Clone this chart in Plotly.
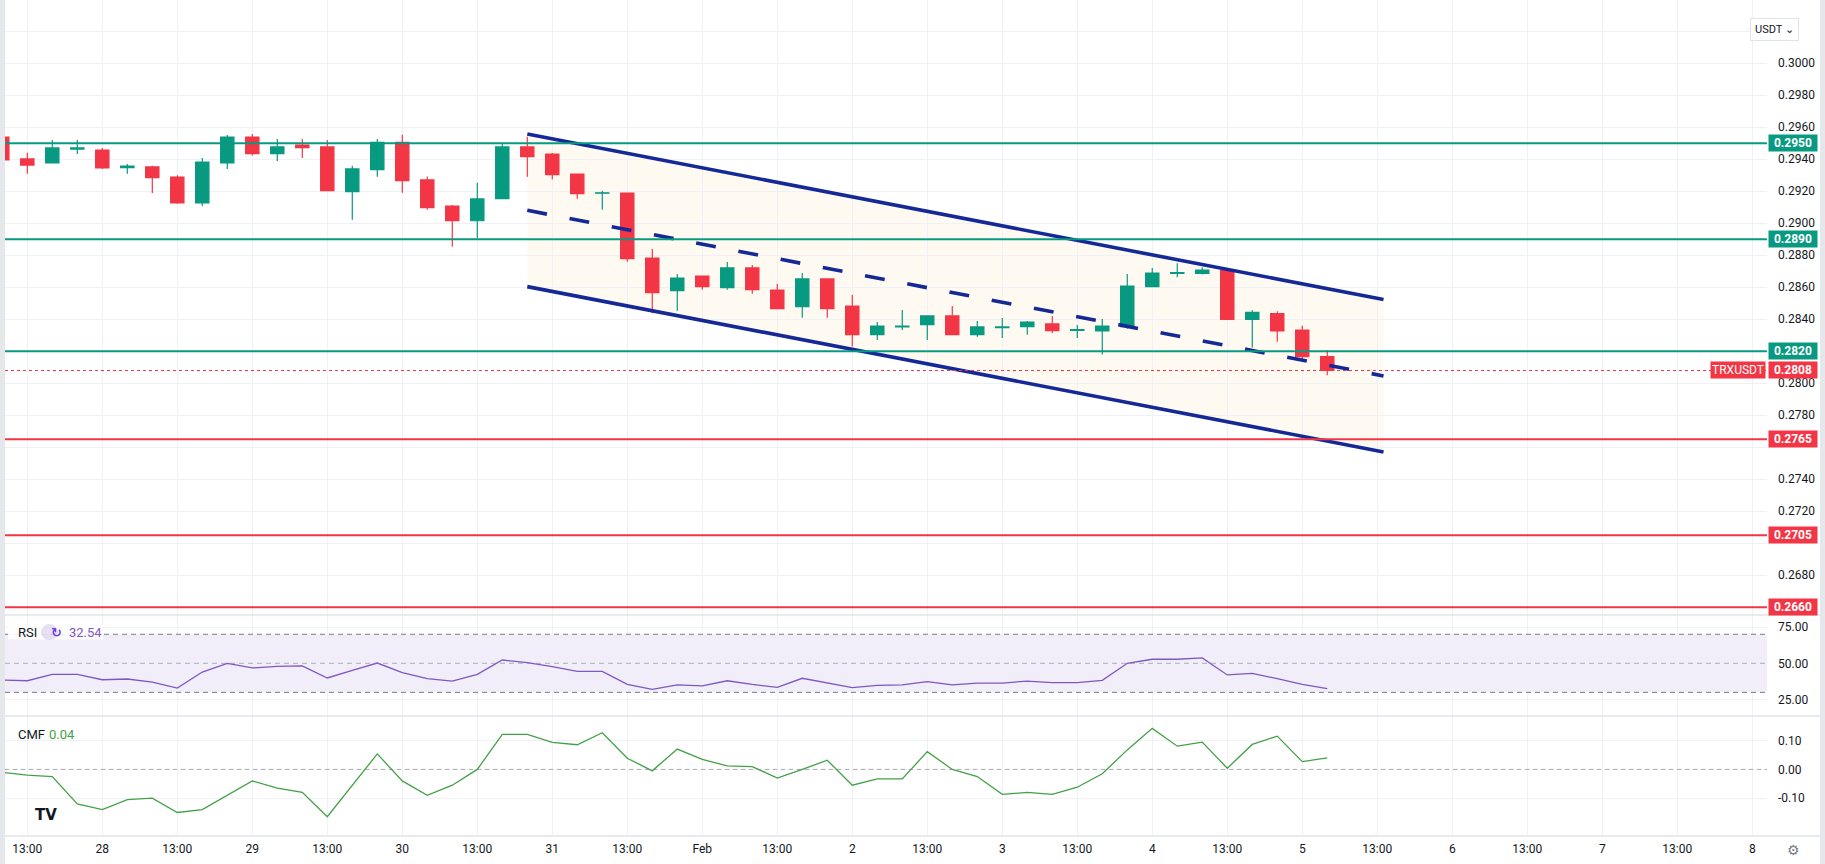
import plotly.graph_objects as go
from plotly.subplots import make_subplots

# 4h bars, bar 0 = 27 Jan 13:00
bars = list(range(-1, 53))

opens = [0.29539, 0.29402, 0.29377, 0.29464, 0.29458, 0.29348, 0.29352, 0.29289, 0.29127, 0.29377,
         0.29539, 0.29435, 0.29489, 0.29477, 0.29198, 0.29335, 0.29506, 0.29271, 0.29108, 0.29016,
         0.29154, 0.29477, 0.29433, 0.29308, 0.29188, 0.29189, 0.28783, 0.28579, 0.28670, 0.28598,
         0.28721, 0.28583, 0.28479, 0.28652, 0.28483, 0.28304, 0.28352, 0.28366, 0.28421, 0.28304,
         0.28348, 0.28354, 0.28371, 0.28331, 0.28327, 0.28354, 0.28604, 0.28687, 0.28687, 0.28706,
         0.28400, 0.28436, 0.28333, 0.28166]
highs = [0.29550, 0.29441, 0.29521, 0.29521, 0.29471, 0.29371, 0.29360, 0.29300, 0.29408, 0.29552,
         0.29558, 0.29527, 0.29527, 0.29521, 0.29360, 0.29527, 0.29554, 0.29292, 0.29115, 0.29254,
         0.29500, 0.29541, 0.29439, 0.29308, 0.29204, 0.29189, 0.28839, 0.28683, 0.28670, 0.28758,
         0.28740, 0.28621, 0.28689, 0.28652, 0.28552, 0.28383, 0.28458, 0.28421, 0.28483, 0.28390,
         0.28408, 0.28390, 0.28421, 0.28364, 0.28402, 0.28683, 0.28720, 0.28750, 0.28725, 0.28720,
         0.28456, 0.28450, 0.28360, 0.28208]
lows = [0.29380, 0.29310, 0.29373, 0.29433, 0.29340, 0.29310, 0.29189, 0.29122, 0.29108, 0.29340,
        0.29423, 0.29390, 0.29408, 0.29204, 0.29022, 0.29291, 0.29191, 0.29085, 0.28854, 0.28908,
        0.29154, 0.29291, 0.29273, 0.29154, 0.29085, 0.28760, 0.28438, 0.28454, 0.28585, 0.28585,
        0.28560, 0.28466, 0.28410, 0.28410, 0.28230, 0.28270, 0.28333, 0.28270, 0.28304, 0.28291,
        0.28283, 0.28304, 0.28313, 0.28283, 0.28180, 0.28341, 0.28604, 0.28663, 0.28680, 0.28400,
        0.28224, 0.28260, 0.28140, 0.28050]
closes = [0.29396, 0.29364, 0.29471, 0.29471, 0.29346, 0.29358, 0.29285, 0.29127, 0.29383, 0.29539,
          0.29435, 0.29477, 0.29473, 0.29204, 0.29340, 0.29506, 0.29266, 0.29098, 0.29016, 0.29152,
          0.29477, 0.29416, 0.29304, 0.29185, 0.29191, 0.28779, 0.28566, 0.28658, 0.28604, 0.28721,
          0.28585, 0.28466, 0.28652, 0.28466, 0.28304, 0.28358, 0.28358, 0.28421, 0.28304, 0.28352,
          0.28352, 0.28383, 0.28329, 0.28335, 0.28358, 0.28608, 0.28689, 0.28691, 0.28708, 0.28400,
          0.28443, 0.28327, 0.28166, 0.28080]

rsi = [38.5, 38.0, 42.4, 42.4, 38.7, 39.2, 37.1, 33.0, 44.0, 50.0,
       46.8, 47.9, 48.2, 39.9, 45.2, 50.2, 43.6, 39.4, 37.8, 42.4,
       52.3, 50.5, 47.7, 44.5, 44.5, 35.5, 32.1, 35.1, 34.4, 38.0,
       35.5, 33.4, 39.7, 36.2, 33.2, 34.8, 35.1, 37.4, 35.1, 36.4,
       36.4, 37.8, 36.7, 36.7, 38.3, 50.0, 52.8, 52.8, 53.7, 42.0,
       43.1, 39.4, 35.5, 32.54]
cmf = [-0.010, -0.020, -0.025, -0.120, -0.140, -0.105, -0.100, -0.150, -0.140, -0.090,
       -0.040, -0.065, -0.080, -0.165, -0.055, 0.054, -0.040, -0.090, -0.055, 0.000,
       0.122, 0.122, 0.094, 0.086, 0.128, 0.039, -0.005, 0.071, 0.035, 0.012,
       0.010, -0.030, 0.000, 0.032, -0.055, -0.033, -0.033, 0.062, 0.000, -0.025,
       -0.087, -0.080, -0.087, -0.062, -0.015, 0.068, 0.143, 0.081, 0.095, 0.004,
       0.087, 0.116, 0.027, 0.040]

tick_bars = list(range(0, 70, 3))
tick_text = ["13:00", "28", "13:00", "29", "13:00", "30", "13:00", "31", "13:00", "Feb",
             "13:00", "2", "13:00", "3", "13:00", "4", "13:00", "5", "13:00", "6",
             "13:00", "7", "13:00", "8"]
price_ticks = [round(0.266 + 0.002 * k, 3) for k in range(19)]
cmf_ticks = [-0.1, 0.0, 0.1]
cmf_tick_text = ["-0.10", "0.00", "0.10"]

green_levels = [0.2950, 0.2890, 0.2820]
red_levels = [0.2765, 0.2705, 0.2660]
last_price = 0.2808

# descending channel drawing (anchors in bars / price)
channel_x = [20, 54.25]
channel_top = [0.29558, 0.28523]
channel_mid = [0.29081, 0.28046]
channel_bot = [0.28604, 0.27571]

UP = "#089981"
DOWN = "#f23645"
NAVY = "#142896"
GRID = "#f0f1f4"
TEXT = "#131722"
PURPLE = "#7e57c2"
CMF_GREEN = "#43a047"
FONT = "Roboto"

# tick labels that sit under a level tag (or the currency button) are left blank
covered = green_levels + red_levels + [0.3020]
price_tick_text = ["" if any(abs(v - c) < 0.0007 for c in covered) else f"{v:.4f}" for v in price_ticks]

fig = make_subplots(rows=3, cols=1, shared_xaxes=True, vertical_spacing=0)

fig.add_trace(go.Candlestick(x=bars, open=opens, high=highs, low=lows, close=closes,
                             increasing=dict(line=dict(color=UP, width=1.2), fillcolor=UP),
                             decreasing=dict(line=dict(color=DOWN, width=1.2), fillcolor=DOWN),
                             whiskerwidth=0), row=1, col=1)

for ys, dash in ((channel_top, "solid"), (channel_mid, "20px,23px"), (channel_bot, "solid")):
    fig.add_trace(go.Scatter(x=channel_x, y=ys, mode="lines",
                             line=dict(color=NAVY, width=3.6, dash=dash)), row=1, col=1)

fig.add_trace(go.Scatter(x=bars, y=rsi, mode="lines", line=dict(color=PURPLE, width=1.3)), row=2, col=1)
fig.add_trace(go.Scatter(x=bars, y=cmf, mode="lines", line=dict(color=CMF_GREEN, width=1.3)), row=3, col=1)

# channel background, kept under the candles
path = (f"M {channel_x[0]},{channel_top[0]} L {channel_x[1]},{channel_top[1]} "
        f"L {channel_x[1]},{channel_bot[1]} L {channel_x[0]},{channel_bot[0]} Z")
fig.add_shape(type="path", path=path, xref="x", yref="y", fillcolor="#fffaf1",
              line=dict(width=0), layer="below")

# horizontal levels
for lvl in green_levels:
    fig.add_shape(type="line", xref="paper", x0=0, x1=1, yref="y", y0=lvl, y1=lvl,
                  line=dict(color=UP, width=2))
for lvl in red_levels:
    fig.add_shape(type="line", xref="paper", x0=0, x1=1, yref="y", y0=lvl, y1=lvl,
                  line=dict(color=DOWN, width=2))
fig.add_shape(type="line", xref="paper", x0=0, x1=1, yref="y", y0=last_price, y1=last_price,
              line=dict(color=DOWN, width=1, dash="dot"))

# RSI band + guides
fig.add_shape(type="rect", xref="paper", x0=0, x1=1, yref="y2", y0=30, y1=70,
              fillcolor="rgba(126,87,194,0.1)", line=dict(width=0), layer="below")
for lvl, col in ((70, "#787b86"), (50, "rgba(120,123,134,0.55)"), (30, "#787b86")):
    fig.add_shape(type="line", xref="paper", x0=0, x1=1, yref="y2", y0=lvl, y1=lvl,
                  line=dict(color=col, width=1, dash="5px,4px"))
fig.add_shape(type="line", xref="paper", x0=0, x1=1, yref="y3", y0=0, y1=0,
              line=dict(color="rgba(120,123,134,0.6)", width=1, dash="4px,4px"))

# pane separators and frame strips
for py in (0.2644, 0.1435, 0.0):
    fig.add_shape(type="line", xref="paper", x0=0, x1=1.0301, yref="paper", y0=py, y1=py,
                  line=dict(color="#e0e3eb", width=1.5))
fig.add_shape(type="rect", xref="paper", x0=-0.0029, x1=0, yref="paper", y0=-0.034, y1=1,
              fillcolor="#e6e7ea", line=dict(width=0))
fig.add_shape(type="rect", xref="paper", x0=1.0301, x1=1.033, yref="paper", y0=-0.034, y1=1,
              fillcolor="#e6e7ea", line=dict(width=0))

# price labels on the axis
for lvl, col in [(v, UP) for v in green_levels] + [(v, DOWN) for v in red_levels] + [(last_price, DOWN)]:
    fig.add_annotation(xref="paper", x=1, xanchor="left", xshift=1, yref="y", y=lvl,
                       text=f"<b>{lvl:.4f}</b>", showarrow=False, bgcolor=col,
                       font=dict(color="white", size=12, family=FONT),
                       width=46, height=14, borderpad=1)
fig.add_annotation(xref="paper", x=1, xanchor="right", xshift=-1, yref="y", y=last_price,
                   text="TRXUSDT", showarrow=False, bgcolor=DOWN,
                   font=dict(color="white", size=12, family=FONT), width=52, height=14, borderpad=1)

fig.add_annotation(xref="paper", x=1.0182, yref="paper", y=0.979, text="USDT ⌄", showarrow=False,
                   bgcolor="white", bordercolor="#e0e3eb", borderwidth=1, borderpad=4,
                   font=dict(color=TEXT, size=11, family=FONT))
fig.add_annotation(xref="paper", x=1.0199, yref="paper", y=-0.017, yanchor="middle", text="⚙",
                   showarrow=False, font=dict(color="#787b86", size=14))

# pane legends
fig.add_shape(type="rect", xref="paper", x0=0.0017, x1=0.0556, yref="paper", y0=0.235, y1=0.254,
              fillcolor="rgba(255,255,255,0.85)", line=dict(width=0))
fig.add_shape(type="circle", xref="paper", x0=0.0204, x1=0.0300, yref="paper", y0=0.2345, y1=0.2535,
              fillcolor="rgba(126,87,194,0.18)", line=dict(width=0))
fig.add_annotation(xref="paper", x=0.0062, xanchor="left", yref="paper", y=0.244, yanchor="middle",
                   text="RSI", showarrow=False, font=dict(color=TEXT, size=13, family=FONT))
fig.add_annotation(xref="paper", x=0.0252, yref="paper", y=0.244, yanchor="middle",
                   text="<b>↻</b>", showarrow=False, font=dict(color="#6a3df0", size=13, family="DejaVu Sans"))
fig.add_annotation(xref="paper", x=0.0352, xanchor="left", yref="paper", y=0.244, yanchor="middle",
                   text="32.54", showarrow=False, font=dict(color=PURPLE, size=13, family=FONT))
fig.add_annotation(xref="paper", x=0.0062, xanchor="left", yref="paper", y=0.122, yanchor="middle",
                   text="CMF", showarrow=False, font=dict(color=TEXT, size=13, family=FONT))
fig.add_annotation(xref="paper", x=0.0238, xanchor="left", yref="paper", y=0.122, yanchor="middle",
                   text="0.04", showarrow=False, font=dict(color=CMF_GREEN, size=13, family=FONT))
fig.add_annotation(xref="paper", x=0.016, yref="paper", y=0.025, yanchor="middle", text="<b>TV</b>",
                   showarrow=False, font=dict(color=TEXT, size=15, family="DejaVu Sans"))

fig.update_xaxes(range=[-0.892, 69.59], tickvals=tick_bars, ticktext=tick_text,
                 showgrid=True, gridcolor=GRID, gridwidth=1, zeroline=False, showline=False,
                 rangeslider_visible=False, ticks="", tickfont=dict(size=12, color=TEXT, family=FONT),
                 ticklabelstandoff=4)
fig.update_xaxes(showticklabels=False, row=1, col=1)
fig.update_xaxes(showticklabels=False, row=2, col=1)

axis_common = dict(side="right", gridcolor=GRID, gridwidth=1, zeroline=False, showline=False,
                   ticks="", ticklabelstandoff=10, tickfont=dict(size=12, color=TEXT, family=FONT))
fig.update_layout(
    width=1825, height=864,
    margin=dict(l=5, r=58, t=0, b=28),
    paper_bgcolor="white", plot_bgcolor="white",
    showlegend=False, boxgap=0.24,
    font=dict(family=FONT, color=TEXT),
    yaxis=dict(domain=[0.2644, 1], range=[0.265519, 0.303956], tickvals=price_ticks,
               ticktext=price_tick_text, **axis_common),
    yaxis2=dict(domain=[0.1435, 0.2644], range=[13.7, 83.3], tickvals=[25, 50, 75],
                tickformat=".2f", **axis_common),
    yaxis3=dict(domain=[0, 0.1435], range=[-0.232, 0.186], tickvals=cmf_ticks,
                ticktext=cmf_tick_text, **axis_common),
)

# the page body has a default 8px margin; drop it so the chart fills the window
fig.write_html("out.html", config={"displayModeBar": False},
               post_script="document.body.style.margin='0';document.body.style.overflow='hidden';")
